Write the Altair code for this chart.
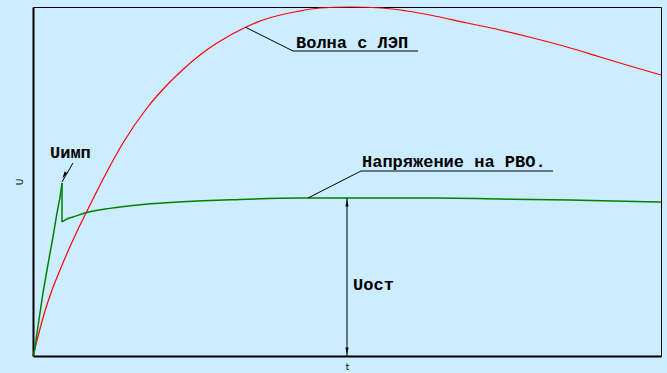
import altair as alt
import pandas as pd

# Surge wave arriving from the overhead line (red)
wave_t = [0, 1.11, 1.91, 3.03, 4.30, 6.37, 8.28, 10.19, 12.26, 14.33, 18.15, 21.34,
          23.89, 26.59, 29.30, 33.76, 36.62, 42.04, 45.70, 50.48, 55.57, 59.55,
          63.22, 69.11, 74.36, 79.62, 85.03, 90.29, 95.06, 100]
wave_u = [0, 7.74, 12.89, 18.91, 24.64, 33.24, 40.40, 47.28, 54.44, 61.03, 71.06, 77.65,
          82.09, 86.25, 89.68, 94.13, 96.28, 98.71, 99.71, 100, 99.71, 98.85,
          97.71, 95.42, 93.41, 91.12, 88.54, 85.67, 83.09, 80.52]

# Voltage across the arrester (green): rise to the spike ...
rise_t = [0, 0.16, 0.64, 1.11, 1.59, 2.23, 2.71, 3.18, 3.82, 4.30, 4.62]
rise_u = [0, 0.86, 6.59, 12.32, 18.05, 24.64, 29.51, 34.10, 40.97, 45.56, 49.57]
# ... sparkover drop ...
drop_t = [4.62, 4.62]
drop_u = [49.57, 38.40]
# ... and the residual level afterwards
tail_t = [4.62, 5.41, 6.37, 8.28, 12.26, 17.52, 23.89, 31.85, 42.52, 64.33,
          74.36, 85.51, 100]
tail_u = [38.40, 39.26, 39.83, 40.97, 42.30, 43.40, 44.20, 44.80, 45.27, 45.27,
          44.99, 44.70, 44.13]

# Residual voltage marker
u_res_t = 50.0
u_res_top = 45.27

# Callout leader polylines (leader + underline)
lead_group = ["wave", "wave", "wave", "rvo", "rvo", "rvo"]
lead_t = [33.76, 41.40, 61.31, 43.79, 52.23, 82.80]
lead_u = [94.27, 87.39, 87.39, 45.27, 53.01, 53.01]

# Labels
label_text = ["Волна с ЛЭП", "Напряжение на РВО.", "Uимп", "Uост"]
label_t = [41.88, 52.39, 2.71, 50.96]
label_u = [88.25, 54.15, 56.73, 18.91]

# Uимп pointer
imp_t = [6.37, 4.62]
imp_u = [55.30, 49.86]

wave = pd.DataFrame({"t": wave_t, "U": wave_u, "n": range(len(wave_t))})
rvo_smooth = pd.concat([
    pd.DataFrame({"t": rise_t, "U": rise_u, "seg": "rise", "n": range(len(rise_t))}),
    pd.DataFrame({"t": tail_t, "U": tail_u, "seg": "tail", "n": range(len(tail_t))}),
])
rvo_drop = pd.DataFrame({"t": drop_t, "U": drop_u, "n": [0, 1]})
leads = pd.DataFrame({"t": lead_t, "U": lead_u, "g": lead_group, "n": range(len(lead_t))})
labels = pd.DataFrame({"t": label_t, "U": label_u, "label": label_text})
imp = pd.DataFrame({"t": imp_t, "U": imp_u, "n": [0, 1]})
res = pd.DataFrame({"t": [u_res_t], "U": [0.0], "U2": [u_res_top]})
heads = pd.DataFrame({
    "t": [u_res_t, u_res_t, imp_t[1] + 0.35],
    "U": [u_res_top - 1.4, 1.4, imp_u[1] + 1.9],
    "ang": [0, 180, 210],
})

xs = alt.Scale(domain=[0, 100], nice=False)
ys = alt.Scale(domain=[0, 100], nice=False)
X = alt.X("t:Q", scale=xs, axis=alt.Axis(title="t", labels=False, ticks=False, grid=False,
                                         titleFontSize=9, titleFontWeight="normal",
                                         titlePadding=6, titleFont="DejaVu Sans"))
Y = alt.Y("U:Q", scale=ys, axis=alt.Axis(title="U", labels=False, ticks=False, grid=False,
                                         titleFontSize=9, titleFontWeight="normal",
                                         titlePadding=9, titleFont="DejaVu Sans"))

wave_line = alt.Chart(wave).mark_line(
    color="#FF0000", strokeWidth=1.2, interpolate="monotone"
).encode(x=X, y=Y, order="n:Q")
rvo_line = alt.Chart(rvo_smooth).mark_line(
    color="#008000", strokeWidth=1.5, interpolate="monotone"
).encode(x="t:Q", y="U:Q", detail="seg:N", order="n:Q")
rvo_drop_line = alt.Chart(rvo_drop).mark_line(color="#008000", strokeWidth=1.5).encode(
    x="t:Q", y="U:Q", order="n:Q")
lead_lines = alt.Chart(leads).mark_line(color="black", strokeWidth=1).encode(
    x="t:Q", y="U:Q", detail="g:N", order="n:Q")
imp_line = alt.Chart(imp).mark_line(color="black", strokeWidth=1).encode(
    x="t:Q", y="U:Q", order="n:Q")
res_rule = alt.Chart(res).mark_rule(color="black", strokeWidth=1).encode(
    x="t:Q", y="U:Q", y2="U2:Q")
arrow_heads = alt.Chart(heads).mark_point(
    shape="M0,-1L0.45,1L-0.45,1Z", filled=True, color="black", opacity=1, size=50
).encode(x="t:Q", y="U:Q", angle=alt.Angle("ang:Q", scale=None))
texts = alt.Chart(labels).mark_text(
    align="left", baseline="alphabetic", font="Liberation Mono", fontWeight="bold",
    fontSize=17, color="black"
).encode(x="t:Q", y="U:Q", text="label:N")

chart = alt.layer(
    wave_line, rvo_line, rvo_drop_line, lead_lines, imp_line, res_rule, arrow_heads, texts
).properties(
    width=628, height=349,
    autosize=alt.AutoSizeParams(type="none"),
    padding={"left": 33, "top": 7, "right": 6, "bottom": 17},
    background="#CCECFF",
).configure_view(
    stroke="black", strokeWidth=1
).configure_axis(
    domainColor="black", domainWidth=2, titleColor="black"
)

chart.save("out.html", embed_options={"renderer": "svg", "actions": False})
